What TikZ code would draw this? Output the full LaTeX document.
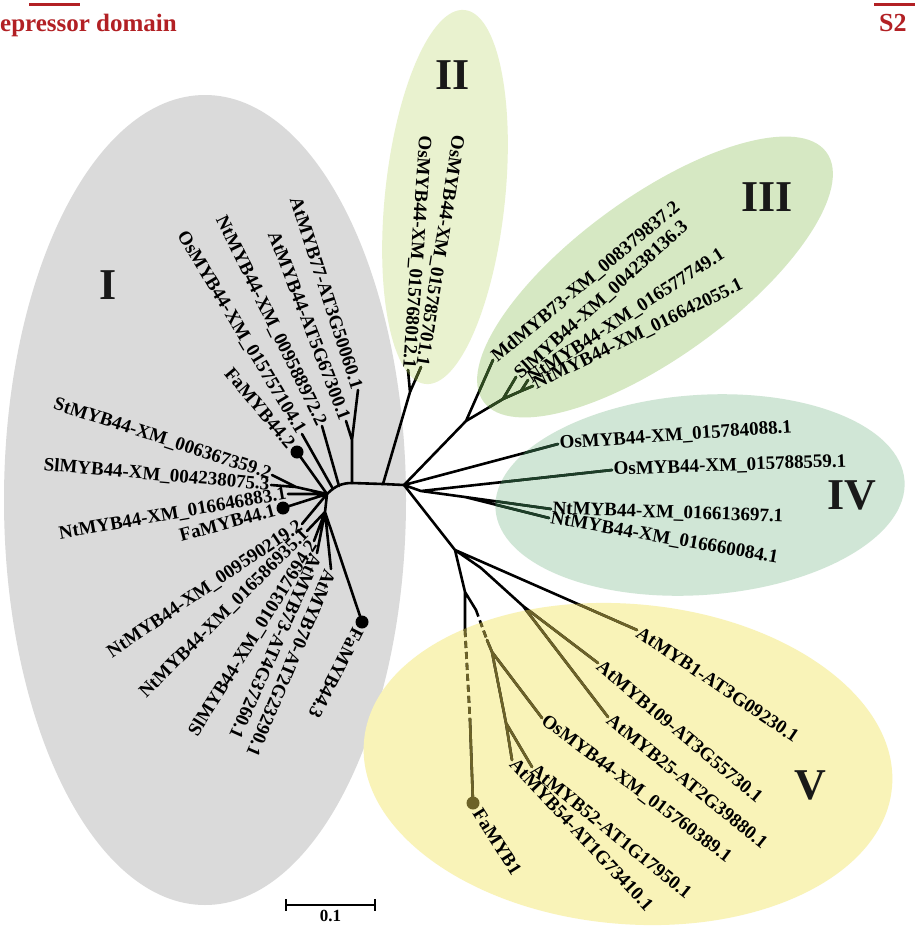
\documentclass[tikz,border=0pt]{standalone}
\usepackage{fontspec}
\setmainfont{Liberation Serif}
\usepackage{tikz}
\usetikzlibrary{calc}

\definecolor{cladeIfill}{RGB}{218,218,218}
\definecolor{cladeIIfill}{RGB}{233,242,207}
\definecolor{cladeIIIfill}{RGB}{214,232,195}
\definecolor{cladeIVfill}{RGB}{208,230,214}
\definecolor{cladeVfill}{RGB}{249,243,184}
\definecolor{cladeIIline}{RGB}{62,74,30}
\definecolor{cladeIIIline}{RGB}{44,72,30}
\definecolor{cladeIVline}{RGB}{28,62,40}
\definecolor{cladeVline}{RGB}{108,98,40}
\definecolor{panelred}{RGB}{178,32,36}

\newcommand{\ellI}{(205,500) ellipse (201 and 405)}
\newcommand{\ellII}{(445,197) ellipse (60 and 188)}
\newcommand{\ellIII}{(655,277) ellipse (212 and 80)}
\newcommand{\ellIV}{(700,495) ellipse (205 and 100)}
\newcommand{\ellV}{(628,764) ellipse (265 and 160)}

\newcommand{\edgesII}{(A) -- (f2) -- (t2a) (f2) -- (t2b)}
\newcommand{\edgesIII}{(R) -- (f3) -- (t3md) (f3) -- (f3b) -- (t3sl) (f3b) -- (f3c) -- (t3n1) (f3c) -- (t3n2)}
\newcommand{\edgesIV}{(R) -- (t4o1) (R) -- (f4) -- (t4o2) (f4) -- (f4b) -- (t4n1) (f4b) -- (t4n2)}
\newcommand{\edgesV}{(R) -- (d0) -- (t5a1) (d0) -- (d1) -- (d2) -- (t5a109) (d2) -- (t5a25) (d0) -- (d3) -- (p1) (p2) -- (fb1) (d3) -- (q1) (q2) -- (d4) -- (t5os) (d4) -- (d5) -- (t5a54) (d5) -- (t5a52)}
\newcommand{\dashesV}{(p1) -- (p2) (q1) -- (q2)}

\begin{document}
\begin{tikzpicture}[x=1pt, y=-1pt,
    branch/.style={line width=2.6pt, line cap=round, line join=round},
    dashbranch/.style={branch, line cap=butt, dash pattern=on 7pt off 4pt},
    leaf/.style={font=\bfseries\fontsize{19}{21}\selectfont, inner sep=1.5pt},
    dotleaf/.style={leaf, inner sep=8pt},
    clade/.style={font=\bfseries\fontsize{44}{48}\selectfont, text=black!90},
    rotII/.style={rotate around={-6:(445,197)}},
    rotIII/.style={rotate around={36:(655,277)}},
    rotIV/.style={rotate around={4:(700,495)}},
    rotV/.style={rotate around={-5:(628,764)}}]
    \useasboundingbox (0,0) rectangle (915,929);
    \fill[white] (0,0) rectangle (915,929);

    \fill[cladeIfill] \ellI;
    \fill[cladeIIfill, rotII] \ellII;
    \fill[cladeIIIfill, rotIII] \ellIII;
    \fill[cladeIVfill, rotIV] \ellIV;
    \fill[cladeVfill, rotV] \ellV;

    \coordinate (g0) at (327,494);
    \coordinate (h1) at (333,489);
    \coordinate (h2) at (339,486);
    \coordinate (g1) at (352,483);
    \coordinate (A) at (383,484);
    \coordinate (R) at (404,485);
    \coordinate (f77) at (352,440);
    \coordinate (t77) at (358,390);
    \coordinate (t44a) at (346,421);
    \coordinate (t588) at (322,426);
    \coordinate (t757) at (302,434);
    \coordinate (fa2) at (297,452);
    \coordinate (fst) at (296,487);
    \coordinate (tst) at (272,475);
    \coordinate (tsl) at (271,485);
    \coordinate (t646) at (288,494);
    \coordinate (fa1) at (283,508);
    \coordinate (t590) at (302,524);
    \coordinate (g3) at (325,512);
    \coordinate (t586) at (307,531);
    \coordinate (t317) at (314,541);
    \coordinate (t73) at (317,553);
    \coordinate (t70) at (331,569);
    \coordinate (fa3) at (362,622);

    \coordinate (f2) at (410,392);
    \coordinate (t2a) at (408,370);
    \coordinate (t2b) at (421,367);

    \coordinate (f3) at (466,421);
    \coordinate (t3md) at (493,360);
    \coordinate (f3b) at (503,399);
    \coordinate (t3sl) at (516,377);
    \coordinate (f3c) at (521,391);
    \coordinate (t3n1) at (528,380);
    \coordinate (t3n2) at (533,386);

    \coordinate (t4o1) at (558,444);
    \coordinate (f4) at (421,491);
    \coordinate (t4o2) at (612,470);
    \coordinate (f4b) at (465,497);
    \coordinate (t4n1) at (551,509);
    \coordinate (t4n2) at (549,518);

    \coordinate (d0) at (455,550);
    \coordinate (t5a1) at (637,630);
    \coordinate (d1) at (481,568);
    \coordinate (d2) at (523,606);
    \coordinate (t5a109) at (598,663);
    \coordinate (t5a25) at (608,717);
    \coordinate (d3) at (465,592);
    \coordinate (p1) at (465,630);
    \coordinate (p2) at (470,720);
    \coordinate (fb1) at (473,803);
    \coordinate (q1) at (476,610);
    \coordinate (q2) at (487,640);
    \coordinate (d4) at (492,652);
    \coordinate (t5os) at (542,718);
    \coordinate (d5) at (506,723);
    \coordinate (t5a54) at (512,760);
    \coordinate (t5a52) at (532,767);

    \draw[branch] (g0) .. controls (335,486) and (342,483) .. (g1) -- (A) -- (R);
    \draw[branch] (g1) -- (f77) -- (t77) (f77) -- (t44a)
        (h2) -- (t588) (h1) -- (t757) (g0) -- (fa2)
        (g0) -- (fst) -- (tst) (fst) -- (tsl)
        (g0) -- (t646) (g0) -- (fa1) (g0) -- (t590)
        (g0) -- (g3) -- (t586) (g3) -- (t317)
        (g3) -- (t73) (g3) -- (t70) (g3) -- (fa3);
    \draw[branch] \edgesII \edgesIII \edgesIV \edgesV;
    \draw[dashbranch] \dashesV;

    \begin{scope}
        \clip[rotII] \ellII;
        \draw[branch, cladeIIline] \edgesII;
    \end{scope}
    \begin{scope}
        \clip[rotIII] \ellIII;
        \draw[branch, cladeIIIline] \edgesIII;
    \end{scope}
    \begin{scope}
        \clip[rotIV] \ellIV;
        \draw[branch, cladeIVline] \edgesIV;
    \end{scope}
    \begin{scope}
        \clip[rotV] \ellV;
        \draw[branch, cladeVline] \edgesV;
        \draw[dashbranch, cladeVline] \dashesV;
    \end{scope}

    \fill (fa2) circle[radius=6.5];
    \fill (fa1) circle[radius=6.5];
    \fill (fa3) circle[radius=6.5];
    \fill[cladeVline] (fb1) circle[radius=6.5];

    \node[leaf, anchor=east, rotate=-72] (l77) at (t77) {AtMYB77-AT3G50060.1};
    \node[leaf, anchor=east, rotate=-69] (l44a) at (t44a) {AtMYB44-AT5G67300.1};
    \node[leaf, anchor=east, rotate=-64] (l588) at (t588) {NtMYB44-XM\_009588972.2};
    \node[leaf, anchor=east, rotate=-59] (l757) at (t757) {OsMYB44-XM\_015757104.1};
    \node[dotleaf, anchor=east, rotate=-50] (lfa2) at (fa2) {FaMYB44.2};
    \node[leaf, anchor=east, rotate=-18] (lst) at (tst) {StMYB44-XM\_006367359.2};
    \node[leaf, anchor=east, rotate=-5] (lsl) at (tsl) {SlMYB44-XM\_004238075.3};
    \node[leaf, anchor=east, rotate=10] (l646) at (t646) {NtMYB44-XM\_016646883.1};
    \node[dotleaf, anchor=east, rotate=15] (lfa1) at (fa1) {FaMYB44.1};
    \node[leaf, anchor=east, rotate=34] (l590) at (t590) {NtMYB44-XM\_009590219.2};
    \node[leaf, anchor=east, rotate=45] (l586) at (t586) {NtMYB44-XM\_016586935.1};
    \node[leaf, anchor=east, rotate=58] (l317) at (t317) {SlMYB44-XM\_010317694.2};
    \node[leaf, anchor=west, rotate=-114] (l73) at (t73) {AtMYB73-AT4G37260.1};
    \node[leaf, anchor=west, rotate=-113] (l70) at (t70) {AtMYB70-AT2G23290.1};
    \node[dotleaf, anchor=west, rotate=-117] (lfa3) at (fa3) {FaMYB44.3};

    \node[leaf, anchor=east, rotate=-94] (l2a) at (t2a) {OsMYB44-XM\_015768012.1};
    \node[leaf, anchor=east, rotate=-99] (l2b) at (t2b) {OsMYB44-XM\_015785701.1};

    \node[leaf, anchor=west, rotate=40] (l3md) at (t3md) {MdMYB73-XM\_008379837.2};
    \node[leaf, anchor=west, rotate=42] (l3sl) at (t3sl) {SlMYB44-XM\_004238136.3};
    \node[leaf, anchor=west, rotate=33] (l3n1) at (t3n1) {NtMYB44-XM\_016577749.1};
    \node[leaf, anchor=west, rotate=26] (l3n2) at (t3n2) {NtMYB44-XM\_016642055.1};

    \node[leaf, anchor=west, rotate=4] (l4o1) at (t4o1) {OsMYB44-XM\_015784088.1};
    \node[leaf, anchor=west, rotate=2] (l4o2) at (t4o2) {OsMYB44-XM\_015788559.1};
    \node[leaf, anchor=west, rotate=-2] (l4n1) at (t4n1) {NtMYB44-XM\_016613697.1};
    \node[leaf, anchor=west, rotate=-10] (l4n2) at (t4n2) {NtMYB44-XM\_016660084.1};

    \node[leaf, anchor=west, rotate=-34] (l5a1) at (t5a1) {AtMYB1-AT3G09230.1};
    \node[leaf, anchor=west, rotate=-40] (l5a109) at (t5a109) {AtMYB109-AT3G55730.1};
    \node[leaf, anchor=west, rotate=-39] (l5a25) at (t5a25) {AtMYB25-AT2G39880.1};
    \node[leaf, anchor=west, rotate=-37] (l5os) at (t5os) {OsMYB44-XM\_015760389.1};
    \node[leaf, anchor=west, rotate=-39] (l5a52) at (t5a52) {AtMYB52-AT1G17950.1};
    \node[leaf, anchor=west, rotate=-47] (l5a54) at (t5a54) {AtMYB54-AT1G73410.1};
    \node[dotleaf, anchor=west, rotate=-58] (lfb1) at (fb1) {FaMYB1};

    \node[clade] (cI) at (108,285) {I};
    \node[clade] (cII) at (453,75) {II};
    \node[clade] (cIII) at (767,197) {III};
    \node[clade] (cIV) at (852,495) {IV};
    \node[clade] (cV) at (810,785) {V};

    \coordinate (sbL) at (286,905);
    \coordinate (sbR) at (375,905);
    \draw[line width=2.4pt] (sbL) -- (sbR);
    \draw[line width=2.4pt] (sbL) ++(0,-6) -- ++(0,12);
    \draw[line width=2.4pt] (sbR) ++(0,-6) -- ++(0,12);
    \node[font=\bfseries\fontsize{17}{19}\selectfont, below=2pt] (sblab) at ($(sbL)!0.5!(sbR)$) {0.1};

    \draw[panelred, line width=3pt] (29,4) -- (80,4);
    \draw[panelred, line width=3pt] (874,4) -- (915,4);
    \node[anchor=base west, inner sep=0pt, text=panelred, font=\bfseries\fontsize{25}{27}\selectfont] (capL) at (0,31) {epressor domain};
    \node[anchor=base west, inner sep=0pt, text=panelred, font=\bfseries\fontsize{26}{28}\selectfont] (capR) at (879,31) {S2};
\end{tikzpicture}
\end{document}
